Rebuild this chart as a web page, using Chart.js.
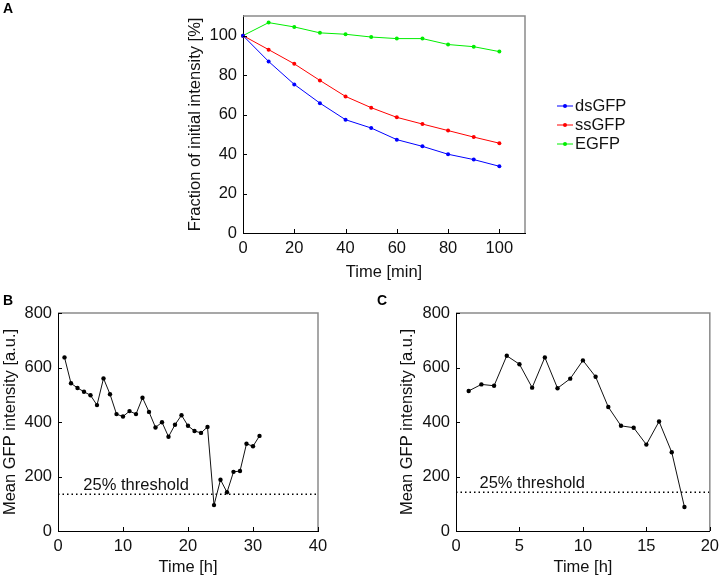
<!DOCTYPE html>
<html>
<head>
<meta charset="utf-8">
<script src="https://cdn.jsdelivr.net/npm/chart.js@4.4.0/dist/chart.umd.min.js"></script>
<style>
  body { margin: 0; background: #fff; font-family: "Liberation Sans", Arial, sans-serif; }
  .wrap { position: relative; width: 725px; height: 579px; }
  canvas { position: absolute; }
  .lbl { position: absolute; font-weight: bold; font-size: 14px; color: #000; }
</style>
</head>
<body>
<div class="wrap">
  <canvas id="chartA" width="725" height="290" style="left:0;top:0"></canvas>
  <canvas id="chartB" width="362" height="289" style="left:0;top:290px"></canvas>
  <canvas id="chartC" width="363" height="289" style="left:362px;top:290px"></canvas>
  <div class="lbl" style="left:3px;top:0px">A</div>
  <div class="lbl" style="left:3px;top:292px">B</div>
  <div class="lbl" style="left:377px;top:292px">C</div>
</div>
<script>
// panel A - fraction of initial intensity
var timeMin = [0, 10, 20, 30, 40, 50, 60, 70, 80, 90, 100];
var dsGFP = [100, 86.9, 75.3, 65.8, 57.4, 53.2, 47.3, 43.9, 39.9, 37.2, 33.8];
var ssGFP = [100, 92.9, 85.7, 77.3, 69.2, 63.5, 58.6, 55.2, 51.9, 48.6, 45.5];
var EGFP  = [100, 106.6, 104.4, 101.4, 100.7, 99.3, 98.5, 98.5, 95.5, 94.4, 91.9];
var seriesNames = ['dsGFP', 'ssGFP', 'EGFP'];
var seriesColors = ['#0000ff', '#ff0000', '#00ee00'];
var ticksMin = [0, 20, 40, 60, 80, 100];
var ticksPct = [0, 20, 40, 60, 80, 100];

// panel B
var hoursB = [1, 2, 3, 4, 5, 6, 7, 8, 9, 10, 11, 12, 13, 14, 15, 16, 17, 18, 19, 20, 21, 22, 23, 24, 25, 26, 27, 28, 29, 30, 31];
var meanB = [637, 542, 525, 511, 498, 462, 560, 502, 429, 420, 440, 429, 489, 437, 380, 399, 346, 390, 425, 386, 367, 360, 382, 95, 188, 142, 217, 220, 320, 311, 349];
var thresholdB = 135;
var ticksHoursB = [0, 10, 20, 30, 40];

// panel C
var hoursC = [1, 2, 3, 4, 5, 6, 7, 8, 9, 10, 11, 12, 13, 14, 15, 16, 17, 18];
var meanC = [514, 538, 533, 643, 612, 526, 637, 524, 559, 626, 566, 455, 386, 379, 317, 402, 289, 88];
var thresholdC = 142;
var ticksHoursC = [0, 5, 10, 15, 20];

var ticksMean = [0, 200, 400, 600, 800];
var thresholdText = '25% threshold';

var FONT = '16.5px "Liberation Sans", Arial, sans-serif';
Chart.defaults.font.family = '"Liberation Sans", Arial, sans-serif';
Chart.defaults.font.size = 16.5;
Chart.defaults.color = '#111';

function pts(xs, ys) {
  return xs.map(function (x, i) { return { x: x, y: ys[i] }; });
}

// top/right grey frame + short inward tick marks
var framePlugin = {
  id: 'frame',
  afterDatasetsDraw: function (chart) {
    var ctx = chart.ctx, a = chart.chartArea;
    var sx = chart.scales.x, sy = chart.scales.y;
    ctx.save();
    ctx.strokeStyle = '#8a8a8a';
    ctx.lineWidth = 1.5;
    ctx.beginPath();
    ctx.moveTo(a.left, a.top);
    ctx.lineTo(a.right, a.top);
    ctx.lineTo(a.right, a.bottom);
    ctx.stroke();
    ctx.strokeStyle = '#000';
    ctx.lineWidth = 1;
    ctx.beginPath();
    sx.ticks.forEach(function (t) {
      var px = Math.round(sx.getPixelForValue(t.value)) + 0.5;
      ctx.moveTo(px, a.bottom);
      ctx.lineTo(px, a.bottom - 4);
    });
    sy.ticks.forEach(function (t) {
      var py = Math.round(sy.getPixelForValue(t.value)) + 0.5;
      ctx.moveTo(a.left, py);
      ctx.lineTo(a.left + 4, py);
    });
    ctx.stroke();
    ctx.restore();
  }
};

var legendPlugin = {
  id: 'sideLegend',
  afterDraw: function (chart) {
    var ctx = chart.ctx;
    ctx.save();
    ctx.font = FONT;
    ctx.textBaseline = 'middle';
    chart.data.datasets.forEach(function (ds, i) {
      var y = 106 + i * 19;
      ctx.strokeStyle = ds.borderColor;
      ctx.lineWidth = 1;
      ctx.beginPath();
      ctx.moveTo(557, y);
      ctx.lineTo(573, y);
      ctx.stroke();
      ctx.fillStyle = ds.borderColor;
      ctx.beginPath();
      ctx.arc(565, y, 2, 0, Math.PI * 2);
      ctx.fill();
      ctx.fillStyle = '#111';
      ctx.fillText(ds.label, 575, y);
    });
    ctx.restore();
  }
};

function thresholdLabel(value, xStart) {
  return {
    id: 'thrLabel',
    afterDatasetsDraw: function (chart) {
      var ctx = chart.ctx;
      var px = chart.scales.x.getPixelForValue(xStart);
      var py = chart.scales.y.getPixelForValue(value);
      ctx.save();
      ctx.font = FONT;
      ctx.fillStyle = '#111';
      ctx.textBaseline = 'alphabetic';
      ctx.fillText(thresholdText, px, py - 4);
      ctx.restore();
    }
  };
}

function axis(min, max, tickList, title) {
  return {
    type: 'linear',
    min: min,
    max: max,
    border: { color: '#000', width: 1 },
    grid: { display: false, drawTicks: false },
    ticks: { padding: 6, color: '#111' },
    title: { display: true, text: title, padding: 0, color: '#111' },
    afterBuildTicks: function (s) {
      s.ticks = tickList.map(function (v) { return { value: v }; });
    }
  };
}

// ---- A
var dataA = [dsGFP, ssGFP, EGFP];
var xA = axis(0, 110, ticksMin, 'Time [min]');
xA.afterFit = function (s) { s.height = 49; };
var yA = axis(0, 110, ticksPct, 'Fraction of initial intensity [%]');
yA.afterFit = function (s) { s.width = 57; };

new Chart(document.getElementById('chartA'), {
  type: 'line',
  data: {
    datasets: dataA.map(function (d, i) {
      return {
        label: seriesNames[i],
        data: pts(timeMin, d),
        borderColor: seriesColors[i],
        backgroundColor: seriesColors[i],
        borderWidth: 1,
        pointRadius: 2,
        pointBorderWidth: 0,
        clip: false
      };
    })
  },
  options: {
    responsive: false,
    animation: false,
    devicePixelRatio: 1,
    layout: { padding: { left: 186, right: 200, top: 15, bottom: 8 } },
    plugins: { legend: { display: false }, tooltip: { enabled: false } },
    scales: { x: xA, y: yA }
  },
  plugins: [framePlugin, legendPlugin]
});

// ---- B and C
function timeCourse(id, xs, ys, xMax, xTicks, thr, labelX, pad, yWidth) {
  var xs2 = axis(0, xMax, xTicks, 'Time [h]');
  xs2.afterFit = function (s) { s.height = 46; };
  var ys2 = axis(0, 800, ticksMean, 'Mean GFP intensity [a.u.]');
  ys2.afterFit = function (s) { s.width = yWidth; };
  var thrX = [0, xMax];
  new Chart(document.getElementById(id), {
    type: 'line',
    data: {
      datasets: [{
        data: pts(xs, ys),
        borderColor: '#111',
        backgroundColor: '#000',
        borderWidth: 1,
        pointRadius: 2.2,
        pointBorderWidth: 0,
        clip: false
      }, {
        data: pts(thrX, [thr, thr]),
        borderColor: '#000',
        borderWidth: 1.5,
        borderDash: [1.5, 3],
        pointRadius: 0
      }]
    },
    options: {
      responsive: false,
      animation: false,
      devicePixelRatio: 1,
      layout: { padding: pad },
      plugins: { legend: { display: false }, tooltip: { enabled: false } },
      scales: { x: xs2, y: ys2 }
    },
    plugins: [framePlugin, thresholdLabel(thr, labelX)]
  });
}

timeCourse('chartB', hoursB, meanB, 40, ticksHoursB, thresholdB, 3.9, { left: 1, right: 44, top: 23, bottom: 2 }, 57);
timeCourse('chartC', hoursC, meanC, 20, ticksHoursC, thresholdC, 1.85, { left: 36, right: 10, top: 23, bottom: 2 }, 58);
</script>
</body>
</html>
